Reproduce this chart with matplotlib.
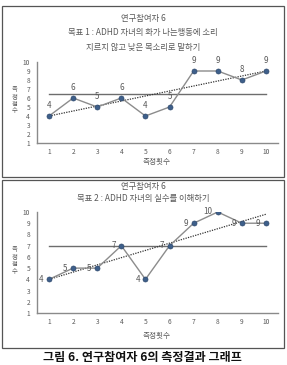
import matplotlib
matplotlib.use("Agg")
import matplotlib.pyplot as plt
from matplotlib.patches import Rectangle

plt.rcParams['font.family'] = ['Noto Sans CJK KR', 'DejaVu Sans']

W, H = 287, 365
sessions = [1, 2, 3, 4, 5, 6, 7, 8, 9, 10]
scores1 = [4, 6, 5, 6, 4, 5, 9, 9, 8, 9]
scores2 = [4, 5, 5, 7, 4, 7, 9, 10, 9, 9]
baseline1 = 6.5
baseline2 = 7
trend1 = [4, 9]
trend2 = [4, 9.8]
yticks = [1, 2, 3, 4, 5, 6, 7, 8, 9, 10]
title1 = ["연구참여자 6", "목표 1 : ADHD 자녀의 화가 나는행동에 소리", "지르지 않고 낮은 목소리로 말하기"]
title2 = ["연구참여자 6", "목표 2 : ADHD 자녀의 실수를 이해하기"]
xlabel = "측정횟수"
ylabel = "측정점수"
caption = "그림 6. 연구참여자 6의 측정결과 그래프"

fig = plt.figure(figsize=(W / 100, H / 100), dpi=100)

def fx(px):
    return px / W

def fy(py):
    return 1 - py / H

TXT = '#595959'
LINE = '#8c8c8c'
MK = '#3e5f8a'

# panel borders
for (x0, y0, x1, y1) in [(2, 6, 284, 177), (2, 180, 284, 348)]:
    fig.patches.append(Rectangle((fx(x0), fy(y1)), fx(x1) - fx(x0), fy(y0) - fy(y1),
                                 transform=fig.transFigure, fill=False,
                                 edgecolor='#555555', linewidth=0.9))

def make_panel(left, top, right, bottom, scores, base, trend, label_mode,
               titles, title_ys, ylab_y, xlab_y):
    ax = fig.add_axes([fx(left), fy(bottom), fx(right) - fx(left), fy(top) - fy(bottom)])
    ax.set_xlim(0.5, 10.5)
    ax.set_ylim(1, 10)
    ax.plot(sessions, scores, color=LINE, lw=1.0, zorder=3)
    ax.plot(sessions, scores, 'o', color=MK, ms=3.6, zorder=4,
            markeredgecolor='#2f4a6e', markeredgewidth=0.5)
    ax.plot([sessions[0], sessions[-1]], [base, base], color='#6d6d6d', lw=1.0, zorder=2)
    ax.plot([sessions[0], sessions[-1]], trend, color='#333333', lw=0.9,
            linestyle=(0, (1, 1)), zorder=2)
    for x, y in zip(sessions, scores):
        if label_mode == 'above':
            ax.annotate(str(y), (x, y), xytext=(0, 4), textcoords='offset points',
                        ha='center', va='bottom', fontsize=5.8, color=TXT, zorder=5)
        else:
            ax.annotate(str(y), (x, y), xytext=(-4, 0), textcoords='offset points',
                        ha='right', va='center', fontsize=5.8, color=TXT, zorder=5)
    ax.set_xticks(sessions)
    ax.set_yticks(yticks)
    ax.tick_params(axis='both', length=0, labelsize=4.8, labelcolor=TXT)
    ax.tick_params(axis='x', pad=3.5)
    ax.tick_params(axis='y', pad=5)
    for s in ['top', 'right']:
        ax.spines[s].set_visible(False)
    for s in ['left', 'bottom']:
        ax.spines[s].set_color('#8a8a8a')
        ax.spines[s].set_linewidth(1.0)
    ax.patch.set_alpha(0)
    for t, ty in zip(titles, title_ys):
        fig.text(fx(143), fy(ty), t, ha='center', va='center', fontsize=6, color=TXT)
    n = len(ylabel)
    for i, ch in enumerate(ylabel):
        fig.text(fx(15), fy(ylab_y + (i - (n - 1) / 2) * 7.0), ch, ha='center',
                 va='center', fontsize=4.6, color=TXT)
    fig.text(fx(157), fy(xlab_y), xlabel, ha='center', va='center', fontsize=5.5, color=TXT)
    return ax

make_panel(37, 62, 278, 143, scores1, baseline1, trend1, 'above',
           title1, [18, 33, 47], 100, 162)
make_panel(37, 212, 278, 313, scores2, baseline2, trend2, 'left',
           title2, [187, 198], 260, 336)

fig.text(fx(142), fy(358), caption, ha='center', va='center', fontsize=8.7,
         fontweight='bold', color='#111111')

fig.savefig('out.png', dpi=100)
